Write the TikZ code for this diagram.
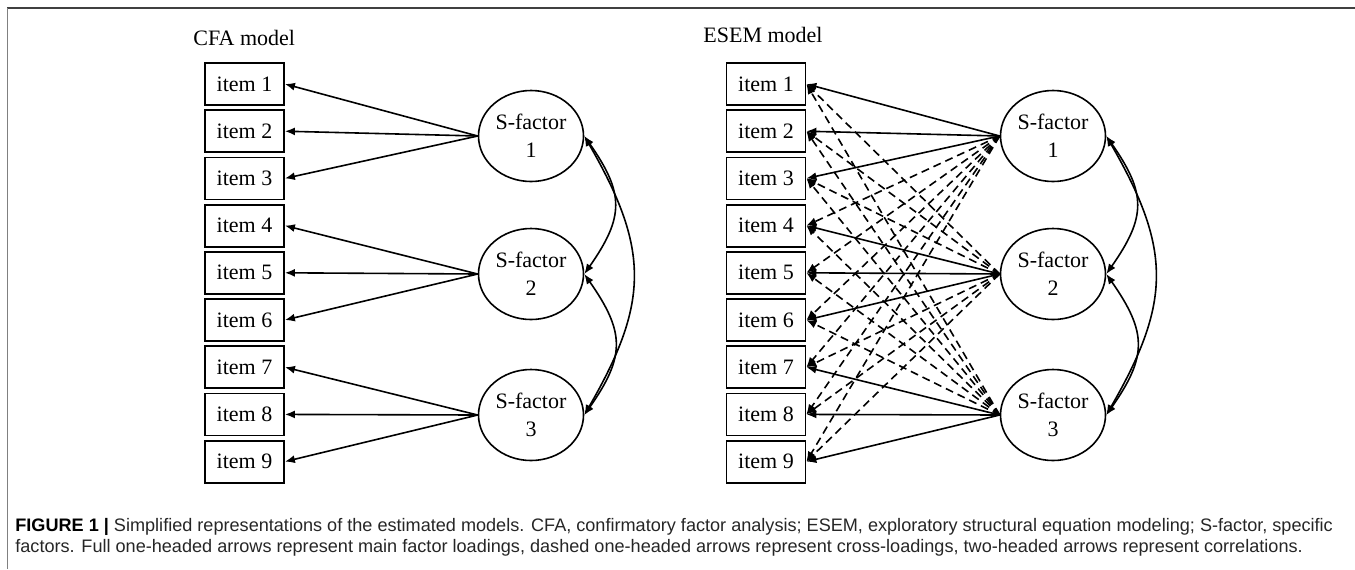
\documentclass[tikz,border=0pt]{standalone}
\usepackage{fontspec}
\setmainfont{Liberation Serif}
\newfontfamily\capfont{Liberation Sans}
\usetikzlibrary{positioning,calc,arrows.meta,shapes.geometric}
\tikzset{itembox/.style={draw, line width=0.9pt, minimum width=39.5pt, minimum height=21pt, inner sep=0pt, font=\fontsize{11}{13}\selectfont}}
\tikzset{factor/.style={draw, ellipse, line width=0.8pt, minimum width=52.5pt, minimum height=45.5pt, inner sep=0pt, align=center, font=\fontsize{11}{14}\selectfont}}
\tikzset{load/.style={draw, line width=0.8pt, -{Latex[length=5pt,width=4pt]}}}
\tikzset{cross/.style={load, dash pattern=on 4pt off 2.5pt}}
\tikzset{corr/.style={draw, line width=0.8pt, {Latex[length=5pt,width=4pt]}-{Latex[length=5pt,width=4pt]}}}
\tikzset{title/.style={anchor=west, inner sep=0pt, font=\fontsize{11}{13}\selectfont}}
\tikzset{caption/.style={anchor=west, inner sep=0pt, text=black!85, font=\capfont\fontsize{9.05}{11}\selectfont}}
\begin{document}
\begin{tikzpicture}[x=0.5pt, y=-0.5pt]
\useasboundingbox (0,0) rectangle (1355,569);
% frame
\draw[line width=0.7pt, draw=black!75] (7,8) -- (1355,8);
\draw[line width=0.7pt, draw=black!50] (7.5,8) -- (7.5,569);
% titles
\node[title] (ctitle) at (193,38) {CFA model};
\node[title] (etitle) at (703,35) {ESEM model};
% items
\foreach \i in {1,...,9}{
  \node[itembox] (c\i) at (244.5,{84+47.2*(\i-1)}) {item \i};
  \node[itembox] (e\i) at (766,{84+47.2*(\i-1)}) {item \i};
}
% factors
\foreach \j/\y in {1/136,2/274,3/415}{
  \node[factor] (cf\j) at (531,\y) {S-factor\\\j};
  \node[factor] (ef\j) at (1053,\y) {S-factor\\\j};
}
% main loadings
\foreach \j in {1,2,3}{
  \foreach \k in {1,2,3}{
    \pgfmathtruncatemacro\n{3*(\j-1)+\k}
    \draw[load] (cf\j.west) -- (c\n.east);
    \draw[load] (ef\j.west) -- (e\n.east);
  }
}
% cross-loadings
\foreach \j in {1,2,3}{
  \foreach \n in {1,...,9}{
    \pgfmathtruncatemacro\own{int((\n-1)/3)+1}
    \ifnum\own=\j\else\draw[cross] (ef\j.west) -- (e\n.east);\fi
  }
}
% correlations
\foreach \m in {cf,ef}{
  \draw[corr] (\m1.east) to[bend left=35, looseness=1.3] (\m2.east);
  \draw[corr] (\m2.east) to[bend left=35, looseness=1.3] (\m3.east);
  \draw[corr] (\m1.east) to[bend left=30, looseness=1.2] (\m3.east);
}
% caption
\node[caption] (cap1) at (15,527) {\textbf{\color{black}FIGURE 1 |} Simplified representations of the estimated models. CFA, confirmatory factor analysis; ESEM, exploratory structural equation modeling; S-factor, specific};
\node[caption] (cap2) at (15,548) {factors. Full one-headed arrows represent main factor loadings, dashed one-headed arrows represent cross-loadings, two-headed arrows represent correlations.};
\end{tikzpicture}
\end{document}
